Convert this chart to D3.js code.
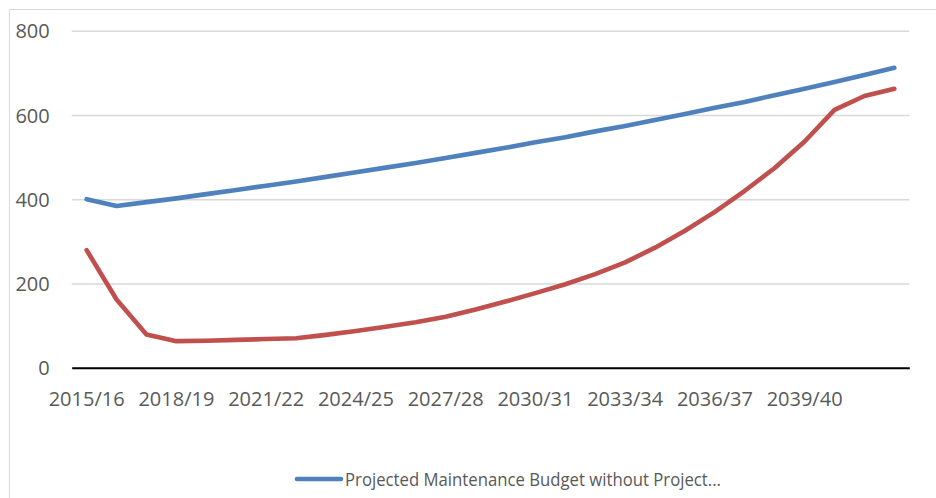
<!DOCTYPE html>
<html>
<head>
<meta charset="utf-8">
<script src="https://cdn.jsdelivr.net/npm/d3@7"></script>
<style>
  html, body { margin: 0; padding: 0; background: #fff; overflow: hidden; }
  svg { display: block; }
  svg text { font-family: "Open Sans", sans-serif; }
</style>
</head>
<body>
<script>
// categories (financial years)
let years = ['2015/16','2016/17','2017/18','2018/19','2019/20','2020/21','2021/22',
             '2022/23','2023/24','2024/25','2025/26','2026/27','2027/28','2028/29',
             '2029/30','2030/31','2031/32','2032/33','2033/34','2034/35','2035/36',
             '2036/37','2037/38','2038/39','2039/40','2040/41','2041/42','2042/43'];

// labels shown on the x axis
let xLabels = ['2015/16','2018/19','2021/22','2024/25','2027/28','2030/31','2033/34','2036/37','2039/40'];

// y ticks
let yTicks = [0, 200, 400, 600, 800];

// series values
let budgetWithout = [400, 384, 393, 402, 412, 422, 432, 442, 453, 464, 475, 486, 498, 510,
                     522, 535, 547, 561, 574, 588, 602, 617, 631, 647, 662, 678, 695, 712];
let budgetWith = [279, 162, 79, 63, 64, 66, 68, 70, 78, 87, 97, 108, 121, 138,
                  157, 177, 198, 222, 250, 285, 325, 370, 420, 474, 537, 612, 645, 662];

let legendText = 'Projected Maintenance Budget without Project...';

let W = 936, H = 498;
let plotLeft = 71.7, plotRight = 909.3, plotTop = 30.7, plotBottom = 367.7;

let svg = d3.select('body')
  .append('svg')
  .attr('width', W)
  .attr('height', H);

// chart frame
svg.append('rect')
   .attr('x', 9.5).attr('y', 9.5)
   .attr('width', 960).attr('height', 520)
   .attr('fill', '#fff')
   .attr('stroke', '#d9d9d9')
   .attr('stroke-width', 1);

let x = d3.scaleBand()
          .domain(years)
          .range([plotLeft, plotRight])
          .padding(0);

let y = d3.scaleLinear()
          .domain([0, 800])
          .range([plotBottom, plotTop]);

let cx = function(d, i) { return x(years[i]) + x.bandwidth() / 2; };

// y axis + gridlines
let yAxis = d3.axisLeft(y)
              .tickValues(yTicks)
              .tickSize(-(plotRight - plotLeft))
              .tickPadding(22)
              .tickFormat(d3.format('d'));

let gy = svg.append('g')
            .attr('transform', 'translate(' + plotLeft + ',0)')
            .call(yAxis);
gy.select('.domain').remove();
gy.selectAll('.tick line')
  .attr('stroke', '#d9d9d9')
  .attr('stroke-width', 1.4);
gy.selectAll('.tick text')
  .attr('fill', '#595959')
  .style('font-size', '20px')
  .attr('dy', '0.36em');

// x axis
let xAxis = d3.axisBottom(x)
              .tickValues(xLabels)
              .tickSize(0)
              .tickPadding(31);

let gx = svg.append('g')
            .attr('transform', 'translate(0,' + plotBottom + ')')
            .call(xAxis);
gx.select('.domain')
  .attr('stroke', '#000')
  .attr('stroke-width', 2);
gx.selectAll('.tick text')
  .attr('fill', '#595959')
  .style('font-size', '20px')
  .attr('dy', '0.36em');

// lines
let line = d3.line()
             .x(cx)
             .y(function(d) { return y(d); });

svg.append('path')
   .datum(budgetWithout)
   .attr('d', line)
   .attr('fill', 'none')
   .attr('stroke', '#4f81bd')
   .attr('stroke-width', 4.6)
   .attr('stroke-linecap', 'round')
   .attr('stroke-linejoin', 'round');

svg.append('path')
   .datum(budgetWith)
   .attr('d', line)
   .attr('fill', 'none')
   .attr('stroke', '#c0504d')
   .attr('stroke-width', 4.6)
   .attr('stroke-linecap', 'round')
   .attr('stroke-linejoin', 'round');

// legend
let lg = svg.append('g').attr('transform', 'translate(297,479)');
lg.append('line')
  .attr('x1', 0).attr('x2', 44)
  .attr('y1', 0).attr('y2', 0)
  .attr('stroke', '#4f81bd')
  .attr('stroke-width', 4.6)
  .attr('stroke-linecap', 'round');
lg.append('text')
  .attr('x', 48)
  .attr('y', 6.5)
  .attr('fill', '#595959')
  .style('font-size', '19px')
  .attr('textLength', 376)
  .attr('lengthAdjust', 'spacingAndGlyphs')
  .text(legendText);
</script>
</body>
</html>
